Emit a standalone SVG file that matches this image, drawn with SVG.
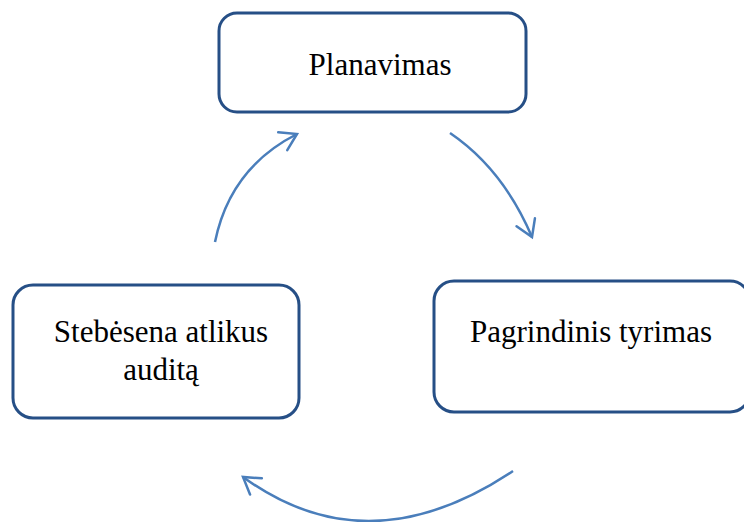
<svg xmlns="http://www.w3.org/2000/svg" width="744" height="522" viewBox="0 0 744 522">
<style>
.box{fill:#fff;stroke:#264f86;stroke-width:3}
.lbl{font-family:"Liberation Serif","Times New Roman",serif;font-size:31px;fill:#000;text-anchor:middle}
.arc{fill:none;stroke:#4a7ebb;stroke-width:2.5;marker-end:url(#head)}
</style>
<defs>
<marker id="head" markerUnits="userSpaceOnUse" markerWidth="40" markerHeight="40" viewBox="-20 -20 40 40" refX="0" refY="0" orient="auto">
<path d="M-16,-10 L0,0 L-16,10" fill="none" stroke="#4a7ebb" stroke-width="2.5" stroke-linecap="round" stroke-linejoin="miter"/>
</marker>
</defs>
<rect width="744" height="522" fill="#fff"/>
<g id="planavimas">
<rect class="box" x="219" y="13" width="307" height="99" rx="18"/>
<text class="lbl" x="380" y="75">Planavimas</text>
</g>
<g id="pagrindinis">
<rect class="box" x="434" y="281" width="316" height="131" rx="20"/>
<text class="lbl" x="591" y="342">Pagrindinis tyrimas</text>
</g>
<g id="stebesena">
<rect class="box" x="13" y="285" width="286" height="133" rx="20"/>
<text class="lbl" x="161" y="342">Stebėsena atlikus</text>
<text class="lbl" x="161" y="380">auditą</text>
</g>
<g id="connectors">
<path class="arc" d="M450,133 Q503,169 532,237"/>
<path class="arc" d="M513,471 Q368,568 243,477"/>
<path class="arc" d="M215,242 Q230,168 297,134"/>
</g>
</svg>
